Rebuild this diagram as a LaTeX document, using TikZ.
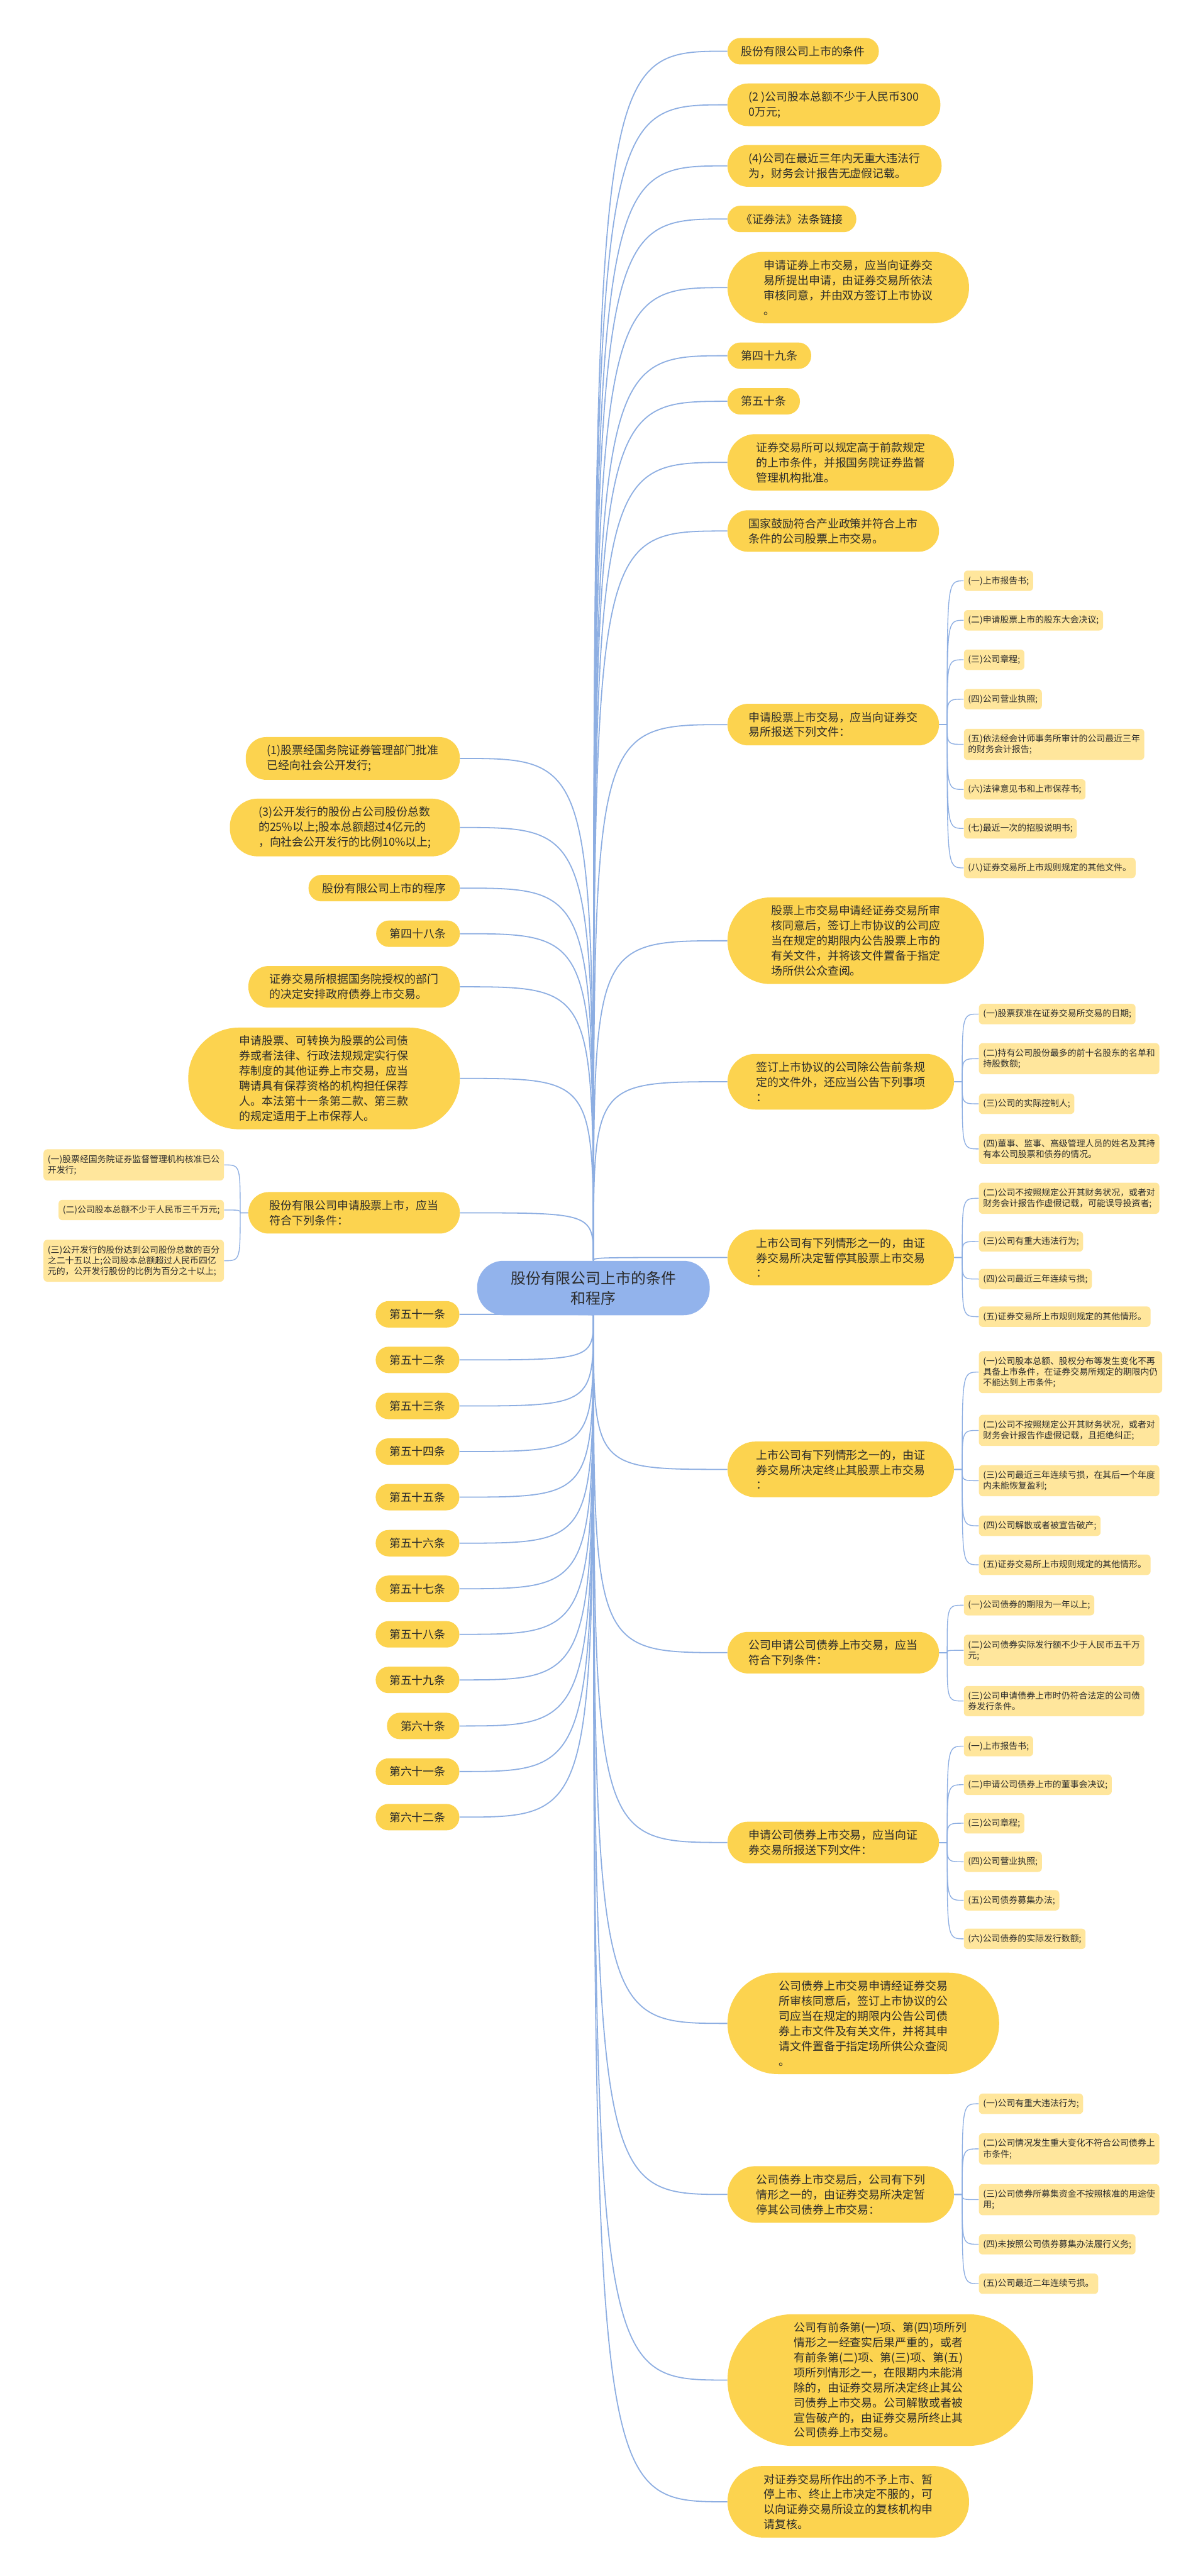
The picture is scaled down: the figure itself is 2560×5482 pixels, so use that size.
\documentclass[tikz,border=0pt]{standalone}
\usepackage{fontspec}
\setmainfont{Noto Sans CJK SC}
\usetikzlibrary{backgrounds}

\definecolor{RootBlue}{HTML}{92B3EC}
\definecolor{TopicYellow}{HTML}{FCD34F}
\definecolor{LeafYellow}{HTML}{FFE69C}
\definecolor{LineBlue}{HTML}{8DAEE2}
\definecolor{TextDark}{HTML}{2B2B2B}

\tikzstyle{root-node}=[rectangle, rounded corners=28pt, fill=RootBlue, text=TextDark, inner xsep=35.75pt, inner ysep=10.75pt, align=center, font=\fontsize{16pt}{21.5pt}\selectfont]
\tikzstyle{topic-node}=[rectangle, fill=TopicYellow, text=TextDark, inner ysep=8.5pt, align=left, font=\fontsize{12pt}{16pt}\selectfont]
\tikzstyle{leaf-node}=[rectangle, rounded corners=4pt, fill=LeafYellow, text=TextDark, inner xsep=4.5pt, inner ysep=6pt, align=left, font=\fontsize{9.3pt}{11.5pt}\selectfont]
\tikzset{pill/.style={inner xsep=#1, rounded corners=#1-0.8pt}}
\tikzstyle{branch-line}=[draw=LineBlue, line width=1.2pt, to path={.. controls (\tikztostart |- \tikztotarget) .. (\tikztotarget)}]
\tikzstyle{leaf-line-r}=[draw=LineBlue, line width=0.9pt, to path={-- ++(17,0) coordinate (spine) .. controls (spine |- \tikztotarget) .. (\tikztotarget)}]
\tikzstyle{leaf-line-l}=[draw=LineBlue, line width=0.9pt, to path={-- ++(-17,0) coordinate (spine) .. controls (spine |- \tikztotarget) .. (\tikztotarget)}]

\begin{document}
\begin{tikzpicture}[x=0.5pt, y=-0.5pt]
      \useasboundingbox (0,0) rectangle (2560,5482);

      \node (root) at (1263, 2741) [root-node] {股份有限公司上市的条件\\和程序};

      % right branches
      \node (topic1) at (1548, 109) [topic-node, pill=14.5pt, anchor=west] {股份有限公司上市的条件};
      \node (topic2) at (1548, 223) [topic-node, pill=22.5pt, anchor=west] {(2 )公司股本总额不少于人民币300\\0万元;};
      \node (topic3) at (1548, 353) [topic-node, pill=22.5pt, anchor=west] {(4)公司在最近三年内无重大违法行\\为，财务会计报告无虚假记载。};
      \node (topic4) at (1548, 466) [topic-node, pill=14.5pt, anchor=west] {《证券法》法条链接};
      \node (topic5) at (1548, 612) [topic-node, pill=38.5pt, anchor=west] {申请证券上市交易，应当向证券交\\易所提出申请，由证券交易所依法\\审核同意，并由双方签订上市协议\\。};
      \node (topic6) at (1548, 757) [topic-node, pill=14.5pt, anchor=west] {第四十九条};
      \node (topic7) at (1548, 854) [topic-node, pill=14.5pt, anchor=west] {第五十条};
      \node (topic8) at (1548, 984) [topic-node, pill=30.5pt, anchor=west] {证券交易所可以规定高于前款规定\\的上市条件，并报国务院证券监督\\管理机构批准。};
      \node (topic9) at (1548, 1130) [topic-node, pill=22.5pt, anchor=west] {国家鼓励符合产业政策并符合上市\\条件的公司股票上市交易。};
      \node (topic10) at (1548, 1542) [topic-node, pill=22.5pt, anchor=west] {申请股票上市交易，应当向证券交\\易所报送下列文件：};
      \node (topic11) at (1548, 2002) [topic-node, pill=46.5pt, anchor=west] {股票上市交易申请经证券交易所审\\核同意后，签订上市协议的公司应\\当在规定的期限内公告股票上市的\\有关文件，并将该文件置备于指定\\场所供公众查阅。};
      \node (topic12) at (1548, 2302) [topic-node, pill=30.5pt, anchor=west] {签订上市协议的公司除公告前条规\\定的文件外，还应当公告下列事项\\：};
      \node (topic13) at (1548, 2676) [topic-node, pill=30.5pt, anchor=west] {上市公司有下列情形之一的，由证\\券交易所决定暂停其股票上市交易\\：};
      \node (topic14) at (1548, 3127) [topic-node, pill=30.5pt, anchor=west] {上市公司有下列情形之一的，由证\\券交易所决定终止其股票上市交易\\：};
      \node (topic15) at (1548, 3517) [topic-node, pill=22.5pt, anchor=west] {公司申请公司债券上市交易，应当\\符合下列条件：};
      \node (topic16) at (1548, 3921) [topic-node, pill=22.5pt, anchor=west] {申请公司债券上市交易，应当向证\\券交易所报送下列文件：};
      \node (topic17) at (1548, 4306) [topic-node, pill=54.5pt, anchor=west] {公司债券上市交易申请经证券交易\\所审核同意后，签订上市协议的公\\司应当在规定的期限内公告公司债\\券上市文件及有关文件，并将其申\\请文件置备于指定场所供公众查阅\\。};
      \node (topic18) at (1548, 4670) [topic-node, pill=30.5pt, anchor=west] {公司债券上市交易后，公司有下列\\情形之一的，由证券交易所决定暂\\停其公司债券上市交易：};
      \node (topic19) at (1548, 5065) [topic-node, pill=70.5pt, anchor=west] {公司有前条第(一)项、第(四)项所列\\情形之一经查实后果严重的，或者\\有前条第(二)项、第(三)项、第(五)\\项所列情形之一，在限期内未能消\\除的，由证券交易所决定终止其公\\司债券上市交易。公司解散或者被\\宣告破产的，由证券交易所终止其\\公司债券上市交易。};
      \node (topic20) at (1548, 5324) [topic-node, pill=38.5pt, anchor=west] {对证券交易所作出的不予上市、暂\\停上市、终止上市决定不服的，可\\以向证券交易所设立的复核机构申\\请复核。};

      % leaves of topic10
      \node (topic10-a) at (2051, 1236) [leaf-node, anchor=west] {(一)上市报告书;};
      \node (topic10-b) at (2051, 1320) [leaf-node, anchor=west] {(二)申请股票上市的股东大会决议;};
      \node (topic10-c) at (2051, 1404) [leaf-node, anchor=west] {(三)公司章程;};
      \node (topic10-d) at (2051, 1488) [leaf-node, anchor=west] {(四)公司营业执照;};
      \node (topic10-e) at (2051, 1584) [leaf-node, anchor=west] {(五)依法经会计师事务所审计的公司最近三年\\的财务会计报告;};
      \node (topic10-f) at (2051, 1680) [leaf-node, anchor=west] {(六)法律意见书和上市保荐书;};
      \node (topic10-g) at (2051, 1763) [leaf-node, anchor=west] {(七)最近一次的招股说明书;};
      \node (topic10-h) at (2051, 1847) [leaf-node, anchor=west] {(八)证券交易所上市规则规定的其他文件。};

      % leaves of topic12
      \node (topic12-a) at (2083, 2158) [leaf-node, anchor=west] {(一)股票获准在证券交易所交易的日期;};
      \node (topic12-b) at (2083, 2253) [leaf-node, anchor=west] {(二)持有公司股份最多的前十名股东的名单和\\持股数额;};
      \node (topic12-c) at (2083, 2349) [leaf-node, anchor=west] {(三)公司的实际控制人;};
      \node (topic12-d) at (2083, 2445) [leaf-node, anchor=west] {(四)董事、监事、高级管理人员的姓名及其持\\有本公司股票和债券的情况。};

      % leaves of topic13
      \node (topic13-a) at (2083, 2550) [leaf-node, anchor=west] {(二)公司不按照规定公开其财务状况，或者对\\财务会计报告作虚假记载，可能误导投资者;};
      \node (topic13-b) at (2083, 2642) [leaf-node, anchor=west] {(三)公司有重大违法行为;};
      \node (topic13-c) at (2083, 2722) [leaf-node, anchor=west] {(四)公司最近三年连续亏损;};
      \node (topic13-d) at (2083, 2802) [leaf-node, anchor=west] {(五)证券交易所上市规则规定的其他情形。};

      % leaves of topic14
      \node (topic14-a) at (2083, 2920) [leaf-node, anchor=west] {(一)公司股本总额、股权分布等发生变化不再\\具备上市条件，在证券交易所规定的期限内仍\\不能达到上市条件;};
      \node (topic14-b) at (2083, 3044) [leaf-node, anchor=west] {(二)公司不按照规定公开其财务状况，或者对\\财务会计报告作虚假记载，且拒绝纠正;};
      \node (topic14-c) at (2083, 3151) [leaf-node, anchor=west] {(三)公司最近三年连续亏损，在其后一个年度\\内未能恢复盈利;};
      \node (topic14-d) at (2083, 3247) [leaf-node, anchor=west] {(四)公司解散或者被宣告破产;};
      \node (topic14-e) at (2083, 3330) [leaf-node, anchor=west] {(五)证券交易所上市规则规定的其他情形。};

      % leaves of topic15
      \node (topic15-a) at (2051, 3416) [leaf-node, anchor=west] {(一)公司债券的期限为一年以上;};
      \node (topic15-b) at (2051, 3512) [leaf-node, anchor=west] {(二)公司债券实际发行额不少于人民币五千万\\元;};
      \node (topic15-c) at (2051, 3620) [leaf-node, anchor=west] {(三)公司申请债券上市时仍符合法定的公司债\\券发行条件。};

      % leaves of topic16
      \node (topic16-a) at (2051, 3716) [leaf-node, anchor=west] {(一)上市报告书;};
      \node (topic16-b) at (2051, 3798) [leaf-node, anchor=west] {(二)申请公司债券上市的董事会决议;};
      \node (topic16-c) at (2051, 3880) [leaf-node, anchor=west] {(三)公司章程;};
      \node (topic16-d) at (2051, 3962) [leaf-node, anchor=west] {(四)公司营业执照;};
      \node (topic16-e) at (2051, 4044) [leaf-node, anchor=west] {(五)公司债券募集办法;};
      \node (topic16-f) at (2051, 4126) [leaf-node, anchor=west] {(六)公司债券的实际发行数额;};

      % leaves of topic18
      \node (topic18-a) at (2083, 4477) [leaf-node, anchor=west] {(一)公司有重大违法行为;};
      \node (topic18-b) at (2083, 4573) [leaf-node, anchor=west] {(二)公司情况发生重大变化不符合公司债券上\\市条件;};
      \node (topic18-c) at (2083, 4681) [leaf-node, anchor=west] {(三)公司债券所募集资金不按照核准的用途使\\用;};
      \node (topic18-d) at (2083, 4776) [leaf-node, anchor=west] {(四)未按照公司债券募集办法履行义务;};
      \node (topic18-e) at (2083, 4860) [leaf-node, anchor=west] {(五)公司最近二年连续亏损。};

      % left branches
      \node (left1) at (979, 1614) [topic-node, pill=22.5pt, anchor=east] {(1)股票经国务院证券管理部门批准\\已经向社会公开发行;};
      \node (left2) at (979, 1761) [topic-node, pill=30.5pt, anchor=east] {(3)公开发行的股份占公司股份总数\\的25\%以上;股本总额超过4亿元的\\，向社会公开发行的比例10\%以上;};
      \node (left3) at (979, 1890) [topic-node, pill=14.5pt, anchor=east] {股份有限公司上市的程序};
      \node (left4) at (979, 1987) [topic-node, pill=14.5pt, anchor=east] {第四十八条};
      \node (left5) at (979, 2100) [topic-node, pill=22.5pt, anchor=east] {证券交易所根据国务院授权的部门\\的决定安排政府债券上市交易。};
      \node (left6) at (979, 2295) [topic-node, pill=54.5pt, anchor=east] {申请股票、可转换为股票的公司债\\券或者法律、行政法规规定实行保\\荐制度的其他证券上市交易，应当\\聘请具有保荐资格的机构担任保荐\\人。本法第十一条第二款、第三款\\的规定适用于上市保荐人。};
      \node (left7) at (979, 2581) [topic-node, pill=22.5pt, anchor=east] {股份有限公司申请股票上市，应当\\符合下列条件：};

      \node (left7-a) at (477, 2479) [leaf-node, anchor=east] {(一)股票经国务院证券监督管理机构核准已公\\开发行;};
      \node (left7-b) at (477, 2575) [leaf-node, anchor=east] {(二)公司股本总额不少于人民币三千万元;};
      \node (left7-c) at (477, 2683) [leaf-node, anchor=east] {(三)公开发行的股份达到公司股份总数的百分\\之二十五以上;公司股本总额超过人民币四亿\\元的，公开发行股份的比例为百分之十以上;};

      \node (art51) at (978, 2797) [topic-node, pill=14.5pt, anchor=east] {第五十一条};
      \node (art52) at (978, 2894) [topic-node, pill=14.5pt, anchor=east] {第五十二条};
      \node (art53) at (978, 2992) [topic-node, pill=14.5pt, anchor=east] {第五十三条};
      \node (art54) at (978, 3089) [topic-node, pill=14.5pt, anchor=east] {第五十四条};
      \node (art55) at (978, 3186) [topic-node, pill=14.5pt, anchor=east] {第五十五条};
      \node (art56) at (978, 3284) [topic-node, pill=14.5pt, anchor=east] {第五十六条};
      \node (art57) at (978, 3381) [topic-node, pill=14.5pt, anchor=east] {第五十七条};
      \node (art58) at (978, 3478) [topic-node, pill=14.5pt, anchor=east] {第五十八条};
      \node (art59) at (978, 3575) [topic-node, pill=14.5pt, anchor=east] {第五十九条};
      \node (art60) at (978, 3673) [topic-node, pill=14.5pt, anchor=east] {第六十条};
      \node (art61) at (978, 3770) [topic-node, pill=14.5pt, anchor=east] {第六十一条};
      \node (art62) at (978, 3867) [topic-node, pill=14.5pt, anchor=east] {第六十二条};

      \begin{pgfonlayer}{background}
      \fill[white] (0,0) rectangle (2560,5482);
      % root to branches
      \draw[branch-line] (root.north) to (topic1.west);
      \draw[branch-line] (root.north) to (topic2.west);
      \draw[branch-line] (root.north) to (topic3.west);
      \draw[branch-line] (root.north) to (topic4.west);
      \draw[branch-line] (root.north) to (topic5.west);
      \draw[branch-line] (root.north) to (topic6.west);
      \draw[branch-line] (root.north) to (topic7.west);
      \draw[branch-line] (root.north) to (topic8.west);
      \draw[branch-line] (root.north) to (topic9.west);
      \draw[branch-line] (root.north) to (topic10.west);
      \draw[branch-line] (root.north) to (topic11.west);
      \draw[branch-line] (root.north) to (topic12.west);
      \draw[branch-line] (root.north) to (topic13.west);
      \draw[branch-line] (root.south) to (topic14.west);
      \draw[branch-line] (root.south) to (topic15.west);
      \draw[branch-line] (root.south) to (topic16.west);
      \draw[branch-line] (root.south) to (topic17.west);
      \draw[branch-line] (root.south) to (topic18.west);
      \draw[branch-line] (root.south) to (topic19.west);
      \draw[branch-line] (root.south) to (topic20.west);
      \draw[branch-line] (root.north) to (left1.east);
      \draw[branch-line] (root.north) to (left2.east);
      \draw[branch-line] (root.north) to (left3.east);
      \draw[branch-line] (root.north) to (left4.east);
      \draw[branch-line] (root.north) to (left5.east);
      \draw[branch-line] (root.north) to (left6.east);
      \draw[branch-line] (root.north) to (left7.east);
      \draw[branch-line] (root.south) to (art51.east);
      \draw[branch-line] (root.south) to (art52.east);
      \draw[branch-line] (root.south) to (art53.east);
      \draw[branch-line] (root.south) to (art54.east);
      \draw[branch-line] (root.south) to (art55.east);
      \draw[branch-line] (root.south) to (art56.east);
      \draw[branch-line] (root.south) to (art57.east);
      \draw[branch-line] (root.south) to (art58.east);
      \draw[branch-line] (root.south) to (art59.east);
      \draw[branch-line] (root.south) to (art60.east);
      \draw[branch-line] (root.south) to (art61.east);
      \draw[branch-line] (root.south) to (art62.east);
      % branches to leaves
      \draw[leaf-line-r] (topic10.east) to (topic10-a.west);
      \draw[leaf-line-r] (topic10.east) to (topic10-b.west);
      \draw[leaf-line-r] (topic10.east) to (topic10-c.west);
      \draw[leaf-line-r] (topic10.east) to (topic10-d.west);
      \draw[leaf-line-r] (topic10.east) to (topic10-e.west);
      \draw[leaf-line-r] (topic10.east) to (topic10-f.west);
      \draw[leaf-line-r] (topic10.east) to (topic10-g.west);
      \draw[leaf-line-r] (topic10.east) to (topic10-h.west);
      \draw[leaf-line-r] (topic12.east) to (topic12-a.west);
      \draw[leaf-line-r] (topic12.east) to (topic12-b.west);
      \draw[leaf-line-r] (topic12.east) to (topic12-c.west);
      \draw[leaf-line-r] (topic12.east) to (topic12-d.west);
      \draw[leaf-line-r] (topic13.east) to (topic13-a.west);
      \draw[leaf-line-r] (topic13.east) to (topic13-b.west);
      \draw[leaf-line-r] (topic13.east) to (topic13-c.west);
      \draw[leaf-line-r] (topic13.east) to (topic13-d.west);
      \draw[leaf-line-r] (topic14.east) to (topic14-a.west);
      \draw[leaf-line-r] (topic14.east) to (topic14-b.west);
      \draw[leaf-line-r] (topic14.east) to (topic14-c.west);
      \draw[leaf-line-r] (topic14.east) to (topic14-d.west);
      \draw[leaf-line-r] (topic14.east) to (topic14-e.west);
      \draw[leaf-line-r] (topic15.east) to (topic15-a.west);
      \draw[leaf-line-r] (topic15.east) to (topic15-b.west);
      \draw[leaf-line-r] (topic15.east) to (topic15-c.west);
      \draw[leaf-line-r] (topic16.east) to (topic16-a.west);
      \draw[leaf-line-r] (topic16.east) to (topic16-b.west);
      \draw[leaf-line-r] (topic16.east) to (topic16-c.west);
      \draw[leaf-line-r] (topic16.east) to (topic16-d.west);
      \draw[leaf-line-r] (topic16.east) to (topic16-e.west);
      \draw[leaf-line-r] (topic16.east) to (topic16-f.west);
      \draw[leaf-line-r] (topic18.east) to (topic18-a.west);
      \draw[leaf-line-r] (topic18.east) to (topic18-b.west);
      \draw[leaf-line-r] (topic18.east) to (topic18-c.west);
      \draw[leaf-line-r] (topic18.east) to (topic18-d.west);
      \draw[leaf-line-r] (topic18.east) to (topic18-e.west);
      \draw[leaf-line-l] (left7.west) to (left7-a.east);
      \draw[leaf-line-l] (left7.west) to (left7-b.east);
      \draw[leaf-line-l] (left7.west) to (left7-c.east);
      \end{pgfonlayer}
\end{tikzpicture}
\end{document}
